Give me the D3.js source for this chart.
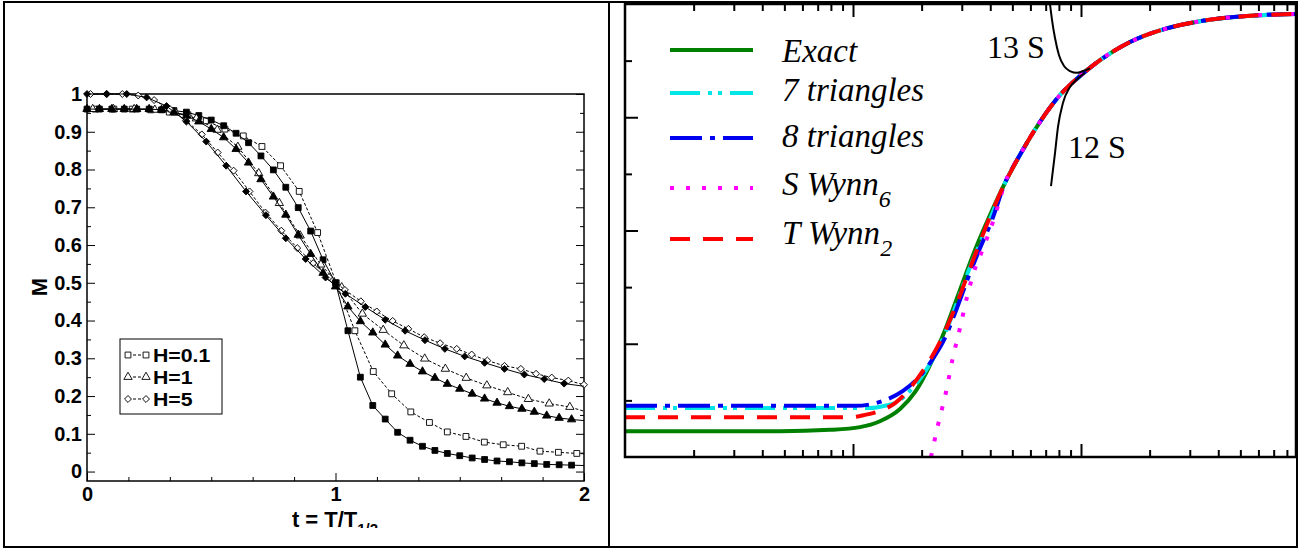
<!DOCTYPE html>
<html>
<head>
<meta charset="utf-8">
<script src="https://cdn.jsdelivr.net/npm/d3@7"></script>
<style>
body { margin: 0; background: #fff; }
text { fill: #000; }
</style>
</head>
<body>
<svg id="chart" width="1314" height="550"></svg>
<script>
// ---- left panel: M against t = T/T1/2 ----
var tGrid = [0,0.05,0.1,0.15,0.2,0.25,0.3,0.35,0.4,0.45,0.5,0.55,0.6,0.65,0.7,0.75,0.8,0.85,0.9,0.95,
    1,1.05,1.1,1.15,1.2,1.25,1.3,1.35,1.4,1.45,1.5,1.55,1.6,1.65,1.7,1.75,1.8,1.85,1.9,1.95,2];
var mSquareFilled = [0.96,0.96,0.96,0.96,0.96,0.96,0.958,0.956,0.952,0.943,0.931,0.916,0.896,0.871,0.836,0.799,0.753,0.699,0.637,0.561,
    0.5,0.373,0.25,0.175,0.139,0.104,0.083,0.067,0.056,0.048,0.042,0.036,0.032,0.028,0.026,0.023,0.021,0.019,0.018,0.017,0.016];
var mTriangleFilled = [0.96,0.96,0.96,0.96,0.96,0.96,0.958,0.952,0.942,0.927,0.907,0.885,0.854,0.818,0.774,0.728,0.68,0.627,0.576,0.526,
    0.49,0.437,0.398,0.368,0.336,0.307,0.285,0.265,0.248,0.232,0.219,0.206,0.193,0.182,0.173,0.166,0.158,0.148,0.142,0.138,0.135];
var tSquareOpen = [0.033,0.108,0.182,0.257,0.331,0.406,0.48,0.555,0.629,0.704,0.779,0.854,0.928,1.003,1.078,1.152,1.226,1.303,1.378,1.45,
    1.525,1.599,1.675,1.749,1.823,1.897,1.971,2];
var mSquareOpen = [0.96,0.96,0.96,0.958,0.952,0.945,0.929,0.907,0.889,0.861,0.81,0.742,0.633,0.5,0.373,0.265,0.206,0.158,0.13,0.105,
    0.093,0.078,0.071,0.067,0.054,0.051,0.048,0.047];
var tTriangleOpen = [0.023,0.106,0.19,0.273,0.357,0.44,0.524,0.607,0.691,0.774,0.858,0.941,1.025,1.108,1.192,1.275,1.359,1.442,1.526,1.609,
    1.693,1.776,1.86,1.943,2];
var mTriangleOpen = [0.96,0.96,0.96,0.958,0.95,0.935,0.905,0.86,0.79,0.711,0.625,0.548,0.488,0.418,0.375,0.334,0.299,0.272,0.248,0.228,
    0.21,0.192,0.18,0.171,0.16];
var tDiamondFilled = [0,0.08,0.16,0.24,0.32,0.4,0.48,0.56,0.64,0.72,0.8,0.88,0.96,1.04,1.12,1.2,1.28,1.36,1.44,1.52,1.6,1.68,1.76,1.84,1.92,2];
var mDiamondFilled = [1,1,1,0.991,0.968,0.927,0.874,0.81,0.742,0.679,0.618,0.563,0.514,0.471,0.436,0.402,0.373,0.348,0.325,0.305,
    0.288,0.272,0.257,0.245,0.233,0.226];
var tDiamondOpen = [0.014,0.078,0.142,0.206,0.27,0.334,0.398,0.462,0.526,0.59,0.654,0.718,0.782,0.846,0.91,0.974,1.038,1.102,1.166,1.23,
    1.293,1.357,1.421,1.488,1.548,1.611,1.68,1.746,1.807,1.87,1.937,2];
var mDiamondOpen = [1,1,1,0.996,0.984,0.96,0.93,0.893,0.845,0.797,0.742,0.686,0.638,0.592,0.552,0.515,0.481,0.451,0.424,0.399,
    0.378,0.356,0.34,0.325,0.31,0.294,0.28,0.272,0.259,0.249,0.241,0.23];
var legendLeft = ["H=0.1", "H=1", "H=5"];
var yTicksLeft = [0,0.1,0.2,0.3,0.4,0.5,0.6,0.7,0.8,0.9,1];
var yMinorLeft = [0.05,0.15,0.25,0.35,0.45,0.55,0.65,0.75,0.85,0.95];
var xTicksLeft = [0,1,2];
var xMinorLeft = [1/6,2/6,3/6,4/6,5/6,7/6,8/6,9/6,10/6,11/6];

// ---- right panel: approximations (log x axis, no labels) ----
var xExact = [0.1,0.478,0.793,1.073,1.313,1.608,1.87,2.176,2.532,2.947,3.429,3.989,4.642,5.402,6.612,8.09,9.9,12.12,16.4,23.36,33.26,55.1,87.7];
var yExact = [0.057,0.057,0.06,0.066,0.079,0.106,0.143,0.203,0.28,0.369,0.457,0.534,0.605,0.667,0.74,0.799,0.841,0.876,0.916,0.945,0.962,0.974,0.978];
var x7tri = [0.1,1.187,1.382,1.56,1.778,2.069,2.408,2.802,3.162,3.606,3.989,4.642,5.402,6.612,8.09,9.9,12.12,16.4,23.36,33.26,55.1,87.7];
var y7tri = [0.108,0.108,0.113,0.121,0.146,0.188,0.247,0.329,0.402,0.472,0.525,0.605,0.667,0.74,0.799,0.841,0.876,0.916,0.945,0.962,0.974,0.978];
var x8tri = [0.1,1.02,1.212,1.424,1.657,1.928,2.221,2.532,2.858,3.195,3.606,4.07,4.642,5.402,6.612,8.09,9.9,12.12,16.4,23.36,33.26,55.1,87.7];
var y8tri = [0.113,0.113,0.117,0.128,0.146,0.174,0.214,0.263,0.329,0.395,0.461,0.523,0.605,0.667,0.74,0.799,0.841,0.876,0.916,0.945,0.962,0.974,0.978];
var xSWynn = [2.198,2.36,2.56,2.727,2.947,3.162,3.388,3.698,4.16,4.642,5.402,6.612,8.09,9.9,12.12,16.4,23.36,33.26,55.1,87.7];
var ySWynn = [0,0.071,0.144,0.214,0.285,0.353,0.408,0.457,0.527,0.605,0.667,0.74,0.799,0.841,0.876,0.916,0.945,0.962,0.974,0.978];
var xTWynn = [0.1,0.97,1.129,1.313,1.529,1.778,2.069,2.408,2.802,3.429,3.989,4.642,5.402,6.612,8.09,9.9,12.12,16.4,23.36,33.26,55.1,87.7];
var yTWynn = [0.088,0.088,0.093,0.102,0.119,0.152,0.197,0.254,0.329,0.446,0.53,0.605,0.667,0.74,0.799,0.841,0.876,0.916,0.945,0.962,0.974,0.978];
var x13S = [7.311,7.461,7.691,8.008,8.423,8.95,9.605,10.2,10.95];
var y13S = [1.0,0.965,0.925,0.887,0.863,0.852,0.848,0.852,0.858];
var x12S = [7.386,7.691,7.927,8.338,8.95,9.605,10.41];
var y12S = [0.598,0.671,0.729,0.782,0.817,0.834,0.848];
var legendRight = ["Exact", "7 triangles", "8 triangles", "S Wynn", "T Wynn"];
var legendRightSub = ["", "", "", "6", "2"];

var svg = d3.select("#chart");

// table borders round the two pictures
svg.append("rect").attr("x", 4).attr("y", 2).attr("width", 1293).attr("height", 545)
    .attr("fill", "none").attr("stroke", "#000").attr("stroke-width", 2);
svg.append("line").attr("x1", 609).attr("x2", 609).attr("y1", 2).attr("y2", 547)
    .attr("stroke", "#000").attr("stroke-width", 2);

// ================= left panel =================
svg.append("clipPath").attr("id", "leftClip").append("rect")
    .attr("x", 5).attr("y", 3).attr("width", 603).attr("height", 525);
var left = svg.append("g").attr("clip-path", "url(#leftClip)")
    .style("font-family", "'Liberation Sans', Arial, sans-serif").style("font-weight", "bold");

var xL = d3.scaleLinear().domain([0, 2]).range([87, 584]);
var yL = d3.scaleLinear().domain([-0.025, 1]).range([481, 94]);

function styleAxis(g) {
    g.select(".domain").remove();
    g.selectAll(".tick line").attr("stroke", "#000").attr("stroke-width", 1);
}

left.append("g").attr("transform", "translate(87,0)")
    .call(d3.axisLeft(yL).tickValues(yTicksLeft).tickSizeInner(-8).tickSizeOuter(0).tickPadding(5).tickFormat(d3.format("~g")))
    .call(styleAxis)
    .selectAll("text").style("font-size", "20px").style("font-family", "'Liberation Sans', Arial, sans-serif");
left.append("g").attr("transform", "translate(87,0)")
    .call(d3.axisLeft(yL).tickValues(yMinorLeft).tickSizeInner(-4).tickSizeOuter(0).tickFormat(""))
    .call(styleAxis);
left.append("g").attr("transform", "translate(584,0)")
    .call(d3.axisRight(yL).tickValues(yTicksLeft).tickSizeInner(-8).tickSizeOuter(0).tickFormat(""))
    .call(styleAxis);
left.append("g").attr("transform", "translate(584,0)")
    .call(d3.axisRight(yL).tickValues(yMinorLeft).tickSizeInner(-4).tickSizeOuter(0).tickFormat(""))
    .call(styleAxis);
left.append("g").attr("transform", "translate(0,481)")
    .call(d3.axisBottom(xL).tickValues(xTicksLeft).tickSizeInner(-8).tickSizeOuter(0).tickPadding(6).tickFormat(d3.format("d")))
    .call(styleAxis)
    .selectAll("text").style("font-size", "20px").style("font-family", "'Liberation Sans', Arial, sans-serif");
left.append("g").attr("transform", "translate(0,481)")
    .call(d3.axisBottom(xL).tickValues(xMinorLeft).tickSizeInner(-4).tickSizeOuter(0).tickFormat(""))
    .call(styleAxis);

left.append("rect").attr("x", 87).attr("y", 94).attr("width", 497).attr("height", 387)
    .attr("fill", "none").attr("stroke", "#000").attr("stroke-width", 1.5);

var seriesLeft = [
    {t: tSquareOpen, m: mSquareOpen, shape: "square", open: true, markLast: false},
    {t: tGrid, m: mSquareFilled, shape: "square", open: false, markLast: false},
    {t: tTriangleOpen, m: mTriangleOpen, shape: "triangle", open: true, markLast: false},
    {t: tGrid, m: mTriangleFilled, shape: "triangle", open: false, markLast: false},
    {t: tDiamondOpen, m: mDiamondOpen, shape: "diamond", open: true, markLast: true},
    {t: tDiamondFilled, m: mDiamondFilled, shape: "diamond", open: false, markLast: false}
];

function markerPath(shape) {
    if (shape === "square") return d3.symbol().type(d3.symbolSquare).size(34)();
    if (shape === "triangle") return d3.symbol().type(d3.symbolTriangle).size(30)();
    return d3.symbol().type(d3.symbolSquare).size(24)();
}

var lineL = d3.line().x(function(d) { return xL(d[0]); }).y(function(d) { return yL(d[1]); });

seriesLeft.forEach(function(s) {
    var pts = s.t.map(function(t, i) { return [t, s.m[i]]; });
    left.append("path").datum(pts).attr("d", lineL)
        .attr("fill", "none").attr("stroke", "#000").attr("stroke-width", 1)
        .attr("stroke-dasharray", s.open ? "3,2" : null);
    var marks = s.markLast ? pts : pts.filter(function(d) { return d[0] < 1.99; });
    left.selectAll(null).data(marks).enter().append("path")
        .attr("d", markerPath(s.shape))
        .attr("transform", function(d) {
            return "translate(" + xL(d[0]) + "," + yL(d[1]) + ")" + (s.shape === "diamond" ? " rotate(45)" : "");
        })
        .attr("fill", s.open ? "#fff" : "#000")
        .attr("stroke", "#000").attr("stroke-width", 0.9);
});

// legend
var leg = left.append("g");
leg.append("rect").attr("x", 120).attr("y", 339).attr("width", 102).attr("height", 75)
    .attr("fill", "#fff").attr("stroke", "#000").attr("stroke-width", 1);
legendLeft.forEach(function(name, i) {
    var cy = 355 + i * 22;
    var shape = ["square", "triangle", "diamond"][i];
    leg.append("line").attr("x1", 128).attr("x2", 146).attr("y1", cy).attr("y2", cy)
        .attr("stroke", "#000").attr("stroke-width", 1).attr("stroke-dasharray", "3,2");
    [128, 146].forEach(function(mx) {
        leg.append("path").attr("d", markerPath(shape))
            .attr("transform", "translate(" + mx + "," + cy + ")" + (shape === "diamond" ? " rotate(45)" : ""))
            .attr("fill", "#fff").attr("stroke", "#000").attr("stroke-width", 0.9);
    });
    leg.append("text").attr("x", 153).attr("y", cy + 7).style("font-size", "19px")
        .attr("transform", "translate(153," + (cy + 7) + ") scale(1.12,1) translate(-153," + (-(cy + 7)) + ")")
        .text(name);
});

// axis titles
left.append("text").attr("transform", "translate(47,287) rotate(-90)")
    .attr("text-anchor", "middle").style("font-size", "22px").text("M");
var xt = left.append("text").attr("x", 335).attr("y", 527).attr("text-anchor", "middle").style("font-size", "22px");
xt.append("tspan").text("t = T/T");
xt.append("tspan").attr("dy", 7).style("font-size", "15px").text("1/2");

// ================= right panel =================
var xR = d3.scaleLog().domain([0.1, 87.7]).range([625, 1296]);
var yR = d3.scaleLinear().domain([0, 1]).range([457, 4]);

var right = svg.append("g");
svg.append("clipPath").attr("id", "rightClip").append("rect")
    .attr("x", 625).attr("y", 4).attr("width", 671).attr("height", 453);

var logTicks = xR.ticks().filter(function(d) { return d <= 87.7; });
function isDecade(d) { var l = Math.log10(d); return Math.abs(l - Math.round(l)) < 1e-6; }
var xMajorR = logTicks.filter(isDecade).filter(function(d) { return d > 0.1; });
var xMinorR = logTicks.filter(function(d) { return !isDecade(d); });

right.append("g").attr("transform", "translate(0,457)")
    .call(d3.axisBottom(xR).tickValues(xMajorR).tickSizeInner(-13).tickSizeOuter(0).tickFormat(""))
    .call(styleAxis);
right.append("g").attr("transform", "translate(0,457)")
    .call(d3.axisBottom(xR).tickValues(xMinorR).tickSizeInner(-7).tickSizeOuter(0).tickFormat(""))
    .call(styleAxis);
right.append("g").attr("transform", "translate(0,4)")
    .call(d3.axisTop(xR).tickValues(xMajorR).tickSizeInner(-13).tickSizeOuter(0).tickFormat(""))
    .call(styleAxis);
right.append("g").attr("transform", "translate(0,4)")
    .call(d3.axisTop(xR).tickValues(xMinorR).tickSizeInner(-7).tickSizeOuter(0).tickFormat(""))
    .call(styleAxis);
right.append("g").attr("transform", "translate(625,0)")
    .call(d3.axisLeft(yR).tickValues([0.25, 0.5, 0.75]).tickSizeInner(-13).tickSizeOuter(0).tickFormat(""))
    .call(styleAxis);
right.append("g").attr("transform", "translate(625,0)")
    .call(d3.axisLeft(yR).tickValues([0.125, 0.375, 0.625, 0.875]).tickSizeInner(-7).tickSizeOuter(0).tickFormat(""))
    .call(styleAxis);
right.selectAll(".tick line").attr("stroke-width", 2);

var curves = right.append("g").attr("clip-path", "url(#rightClip)");
var lineR = d3.line().curve(d3.curveMonotoneX)
    .x(function(d) { return xR(d[0]); }).y(function(d) { return yR(d[1]); });

var seriesRight = [
    {x: xExact, y: yExact, color: "#008000", dash: null, width: 4},
    {x: x7tri, y: y7tri, color: "#00e5e5", dash: "30,8,4,6,4,8", width: 4},
    {x: x8tri, y: y8tri, color: "#0000f0", dash: "32,8,5,8", width: 4},
    {x: xSWynn, y: ySWynn, color: "#ff00ff", dash: "4,12", width: 4},
    {x: xTWynn, y: yTWynn, color: "#ff0000", dash: "20,13", width: 4},
    {x: x13S, y: y13S, color: "#000", dash: null, width: 2},
    {x: x12S, y: y12S, color: "#000", dash: null, width: 2}
];
seriesRight.forEach(function(s) {
    var pts = s.x.map(function(x, i) { return [x, s.y[i]]; });
    curves.append("path").datum(pts).attr("d", lineR)
        .attr("fill", "none").attr("stroke", s.color).attr("stroke-width", s.width)
        .attr("stroke-dasharray", s.dash);
});

right.append("rect").attr("x", 625).attr("y", 4).attr("width", 671).attr("height", 453)
    .attr("fill", "none").attr("stroke", "#000").attr("stroke-width", 2.5);

// legend
var lineRows = [50, 93, 138, 188, 239];
var textRows = [62, 101, 147, 195, 244];
var legR = right.append("g").style("font-family", "'Liberation Serif', 'Times New Roman', serif").style("font-style", "italic");
legendRight.forEach(function(name, i) {
    var s = seriesRight[i];
    legR.append("line").attr("x1", 670).attr("x2", 753).attr("y1", lineRows[i]).attr("y2", lineRows[i])
        .attr("stroke", s.color).attr("stroke-width", 4).attr("stroke-dasharray", s.dash);
    var t = legR.append("text").attr("x", 782).attr("y", textRows[i]).style("font-size", "33px").text(name);
    if (legendRightSub[i]) {
        t.append("tspan").attr("dy", 12).style("font-size", "24px").text(legendRightSub[i]);
    }
});

var lab = right.append("g").style("font-family", "'Liberation Serif', 'Times New Roman', serif").style("font-size", "32px");
lab.append("text").attr("x", 987).attr("y", 58).text("13 S");
lab.append("text").attr("x", 1068).attr("y", 158).text("12 S");
</script>
</body>
</html>
